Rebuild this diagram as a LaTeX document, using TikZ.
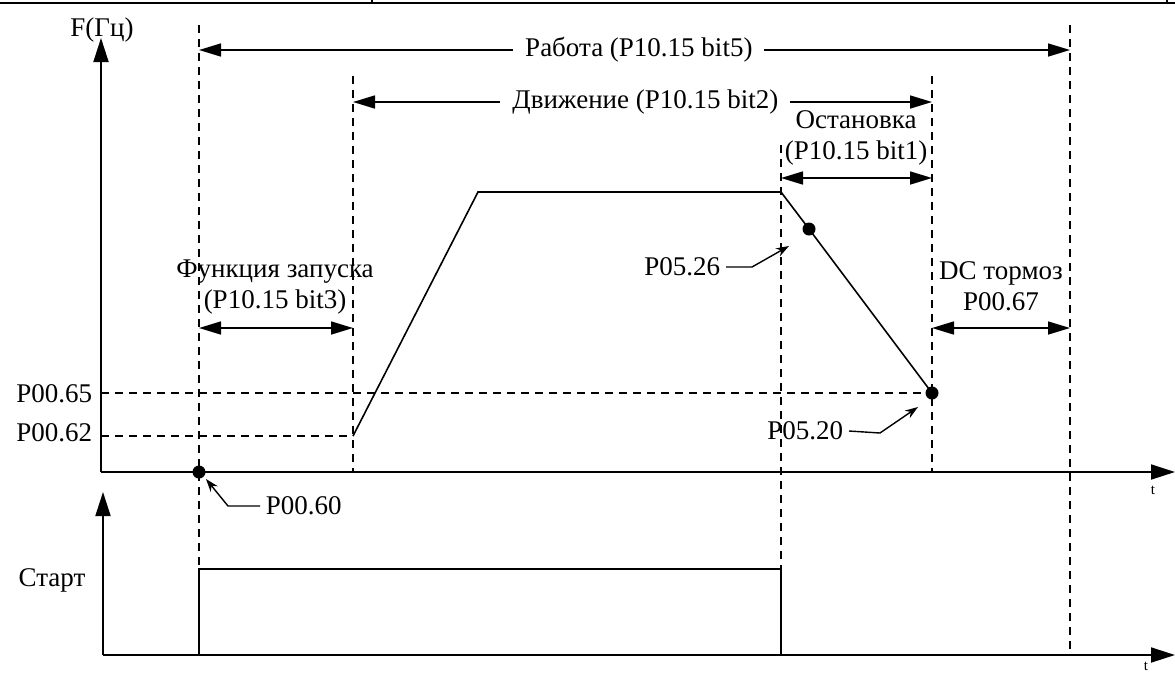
\documentclass[tikz,border=0pt]{standalone}
\usepackage{fontspec}
\setmainfont{Liberation Serif}
\usetikzlibrary{arrows.meta,positioning,calc}

\begin{document}
\begin{tikzpicture}[
    x=1pt, y=-1pt,
    line width=1.6pt,
    font=\fontsize{27}{31}\selectfont,
    axis/.style={line width=1.8pt, -{Triangle[length=24pt,width=15pt]}},
    dimarrow/.style={line width=1.6pt, {Triangle[length=22pt,width=13pt]}-{Triangle[length=22pt,width=13pt]}},
    guide/.style={line width=1.6pt, dash pattern=on 8pt off 6pt},
    leader/.style={line width=1.4pt, -{Stealth[length=13pt,width=9pt]}},
    dot/.style={circle, fill=black, inner sep=0pt, minimum size=13pt},
    gaplbl/.style={fill=white, inner xsep=12pt, inner ysep=0pt},
    lbl/.style={inner sep=1pt, align=center},
    leadlbl/.style={inner ysep=1pt, inner xsep=5pt},
    tlbl/.style={inner sep=0pt, font=\fontsize{15}{16}\selectfont}
]
\useasboundingbox (0,0) rectangle (1175,673);

% table rule
\coordinate (ruleL) at (0,3);
\coordinate (ruleR) at (1175,3);
\coordinate (tickAt) at (372,0);
\coordinate (tickAb) at (372,3);
\coordinate (tickBt) at (1167,0);
\coordinate (tickBb) at (1167,3);
\draw[line width=2.2pt] (ruleL) -- (ruleR);
\draw[line width=1.4pt] (tickAt) -- (tickAb);
\draw[line width=1.4pt] (tickBt) -- (tickBb);

% axes
\coordinate (orgF) at (101,472);
\coordinate (topF) at (101,38);
\coordinate (endF) at (1175,472);
\coordinate (orgS) at (103,655);
\coordinate (topS) at (103,492);
\coordinate (endS) at (1175,655);
\draw[axis] (orgF) -- (topF);
\draw[axis] (orgF) -- (endF);
\draw[axis] (orgS) -- (topS);
\draw[axis] (orgS) -- (endS);

\node (lblF) [lbl] at (102,30) {F(Гц)};
\node (lblT1) [tlbl] at (1153,490) {t};
\node (lblT2) [tlbl] at (1146,666) {t};
\node (lblStart) [lbl] at (52,580) {Старт};

% dashed guides
\coordinate (gAt) at (199,25);
\coordinate (gAb) at (199,569);
\coordinate (gBt) at (353,76);
\coordinate (gBb) at (353,472);
\coordinate (gCt) at (781,145);
\coordinate (gCb) at (781,569);
\coordinate (gDt) at (932,76);
\coordinate (gDb) at (932,472);
\coordinate (gEt) at (1070,25);
\coordinate (gEb) at (1070,655);
\draw[guide] (gAt) -- (gAb);
\draw[guide] (gBt) -- (gBb);
\draw[guide] (gCt) -- (gCb);
\draw[guide] (gDt) -- (gDb);
\draw[guide] (gEt) -- (gEb);

\coordinate (h65a) at (101,393);
\coordinate (h62a) at (101,436);
\coordinate (h62b) at (353,436);
\node (lbl65) [lbl, anchor=east] at (94,394) {P00.65};
\node (lbl62) [lbl, anchor=east] at (94,433) {P00.62};

% frequency curve
\coordinate (rampLow) at (353,436);
\coordinate (rampTop) at (478,192);
\coordinate (decStart) at (781,192);
\node (dotStop) [dot] at (932,393) {};
\node (dotDec) [dot] at (809,229) {};
\node (dotRun) [dot] at (199,472) {};
\draw[guide] (h65a) -- (dotStop.center);
\draw[guide] (h62a) -- (h62b);
\draw (rampLow) -- (rampTop) -- (decStart) -- (dotDec.center) -- (dotStop.center);

% start signal
\coordinate (pulseA) at (199,655);
\coordinate (pulseB) at (199,569);
\coordinate (pulseC) at (781,569);
\coordinate (pulseD) at (781,655);
\draw (pulseA) -- (pulseB) -- (pulseC) -- (pulseD);

% Arrows
\coordinate (workL) at (199,50);
\coordinate (workR) at (1070,50);
\coordinate (moveL) at (353,102);
\coordinate (moveR) at (932,102);
\coordinate (stopL) at (781,178);
\coordinate (stopR) at (932,178);
\coordinate (launchL) at (199,328);
\coordinate (launchR) at (353,328);
\coordinate (brakeL) at (932,328);
\coordinate (brakeR) at (1070,328);
\draw[dimarrow] (workL) -- node[gaplbl, pos=0.505] {Работа (P10.15 bit5)} (workR);
\draw[dimarrow] (moveL) -- node[gaplbl, pos=0.505] {Движение (P10.15 bit2)} (moveR);
\draw[dimarrow] (stopL) -- (stopR);
\draw[dimarrow] (launchL) -- (launchR);
\draw[dimarrow] (brakeL) -- (brakeR);

\node (lblStop) [lbl] at (856,138) {Остановка\\(P10.15 bit1)};
\node (lblLaunch) [lbl] at (275,287) {Функция запуска\\(P10.15 bit3)};
\node (lblBrake) [lbl] at (1001,286) {DC тормоз\\P00.67};

% leaders
\node (lbl0060) [leadlbl, anchor=west] at (260,506) {P00.60};
\coordinate (bend0060) at (228,506);
\coordinate (tip0060) at (206,479);
\draw[leader] (lbl0060.west) -- (bend0060) -- (tip0060);

\node (lbl0526) [leadlbl, anchor=east] at (726,267) {P05.26};
\coordinate (bend0526) at (752,267);
\coordinate (tip0526) at (789,246);
\draw[leader] (lbl0526.east) -- (bend0526) -- (tip0526);

\node (lbl0520) [leadlbl, anchor=east] at (849,431) {P05.20};
\coordinate (bend0520) at (880,433);
\coordinate (tip0520) at (918,407);
\draw[leader] (lbl0520.east) -- (bend0520) -- (tip0520);
\end{tikzpicture}
\end{document}
